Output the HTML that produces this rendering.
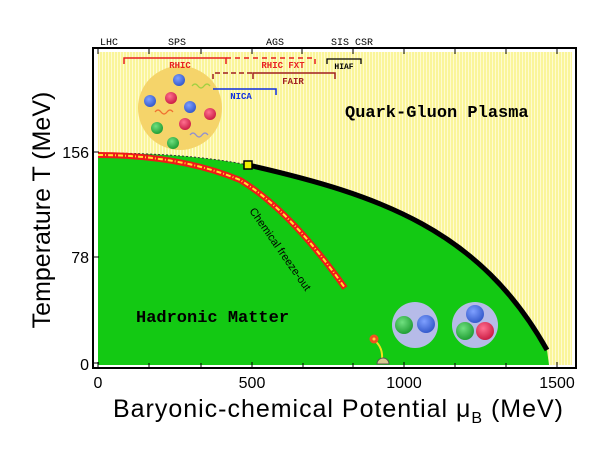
<!DOCTYPE html>
<html><head><meta charset="utf-8"><style>
body{margin:0;background:#fff;}
svg{display:block;font-family:"Liberation Sans",sans-serif;}
.m{font-family:"Liberation Mono",monospace;font-weight:bold;}
</style></head><body>
<svg width="612" height="457" viewBox="0 0 612 457" xmlns="http://www.w3.org/2000/svg">
<defs>
<pattern id="hat" width="3" height="3" patternUnits="userSpaceOnUse">
<rect width="3" height="3" fill="#faf59a"/><rect width="1" height="3" fill="#fffbd0"/>
</pattern>
<radialGradient id="gb" cx="0.4" cy="0.35" r="0.7"><stop offset="0" stop-color="#7fa0ff"/><stop offset="1" stop-color="#2f55c8"/></radialGradient>
<radialGradient id="gr" cx="0.4" cy="0.35" r="0.7"><stop offset="0" stop-color="#ff7090"/><stop offset="1" stop-color="#c81840"/></radialGradient>
<radialGradient id="gg" cx="0.4" cy="0.35" r="0.7"><stop offset="0" stop-color="#70e080"/><stop offset="1" stop-color="#1c9a30"/></radialGradient>
</defs>
<rect x="98" y="52" width="474" height="313" fill="url(#hat)"/>
<!-- green region -->
<path d="M98,153 Q190,153 248,165 C380,195 480,230 547,350 L549,365 L98,365 Z" fill="#13c913"/>
<path d="M98,153 Q190,153 248,165" fill="none" stroke="#333" stroke-width="1" stroke-dasharray="2,2"/>
<path d="M248,165 C380,195 480,230 547,350" fill="none" stroke="#000" stroke-width="5"/>
<rect x="244" y="161" width="8" height="8" fill="#f0f000" stroke="#000" stroke-width="1.5"/>
<!-- freeze-out -->
<path d="M98,155 Q180,155 240,180 Q290,210 345,288" fill="none" stroke="#f01818" stroke-width="6"/>
<path d="M98,155 Q180,155 240,180 Q290,210 345,288" fill="none" stroke="#ffe030" stroke-width="2" stroke-dasharray="5,2,1,2"/>
<text x="0" y="0" font-size="11" transform="translate(249,211) rotate(55)">Chemical freeze-out</text>
<!-- QGP bubble -->
<circle cx="180" cy="108" r="42" fill="#f5d46a"/>
<circle cx="179" cy="80" r="6" fill="url(#gb)"/><circle cx="150" cy="101" r="6" fill="url(#gb)"/><circle cx="190" cy="107" r="6" fill="url(#gb)"/>
<circle cx="171" cy="98" r="6" fill="url(#gr)"/><circle cx="210" cy="114" r="6" fill="url(#gr)"/><circle cx="185" cy="124" r="6" fill="url(#gr)"/>
<circle cx="157" cy="128" r="6" fill="url(#gg)"/><circle cx="173" cy="143" r="6" fill="url(#gg)"/>
<path d="M192,86 q3,-4 6,0 q3,4 6,0 q3,-4 6,0" fill="none" stroke="#a0d040" stroke-width="1.2"/>
<path d="M155,112 q3,-4 6,0 q3,4 6,0 q3,-4 6,0" fill="none" stroke="#f07030" stroke-width="1.2"/>
<path d="M190,135 q3,-4 6,0 q3,4 6,0 q3,-4 6,0" fill="none" stroke="#9090d0" stroke-width="1.2"/>
<!-- hadrons -->
<circle cx="415" cy="325" r="23" fill="#b6bbe8"/>
<circle cx="404" cy="325" r="9" fill="url(#gg)"/><circle cx="426" cy="324" r="9" fill="url(#gb)"/>
<circle cx="475" cy="325" r="23" fill="#b6bbe8"/>
<circle cx="475" cy="314" r="9" fill="url(#gb)"/><circle cx="465" cy="331" r="9" fill="url(#gg)"/><circle cx="485" cy="331" r="9" fill="url(#gr)"/>
<path d="M374,340 Q383,347 382,359" fill="none" stroke="#f0e020" stroke-width="2"/>
<circle cx="374" cy="339" r="4.5" fill="#f05020"/><circle cx="374" cy="339" r="1.5" fill="#ffd040"/>
<path d="M377,364 a6,6 0 0 1 12,0 Z" fill="#d8c890" stroke="#555" stroke-width="1"/>
<!-- labels in plot -->
<text x="345" y="117" class="m" font-size="17">Quark-Gluon Plasma</text>
<text x="136" y="322" class="m" font-size="17">Hadronic Matter</text>
<!-- brackets -->
<path d="M124,64 V58 H226 V64" fill="none" stroke="#e82020" stroke-width="1.5"/>
<path d="M226,58 H315 V64" fill="none" stroke="#e82020" stroke-width="1.5" stroke-dasharray="5,4"/>
<text x="180" y="68" class="m" font-size="9" fill="#e82020" text-anchor="middle">RHIC</text>
<text x="283" y="68" class="m" font-size="9" fill="#e82020" text-anchor="middle">RHIC FXT</text>
<path d="M213,79 V73 H253" fill="none" stroke="#a02020" stroke-width="1.5" stroke-dasharray="5,3"/>
<path d="M253,79 V73 H335 V79" fill="none" stroke="#a02020" stroke-width="1.5"/>
<text x="293" y="84" class="m" font-size="9" fill="#a02020" text-anchor="middle">FAIR</text>
<path d="M213,89 H276 V95" fill="none" stroke="#1030e0" stroke-width="1.5"/>
<text x="241" y="99" class="m" font-size="9" fill="#1030e0" text-anchor="middle">NICA</text>
<path d="M327,64 V59 H361 V64" fill="none" stroke="#000" stroke-width="1.3"/>
<text x="344" y="69" class="m" font-size="8" fill="#000" text-anchor="middle">HIAF</text>
<!-- frame -->
<rect x="93" y="48" width="483" height="320" fill="none" stroke="#000" stroke-width="2"/>
<g stroke="#000" stroke-width="1">
<path d="M98,48v6M149,48v6M201,48v6M252,48v6M302,48v6M353,48v6M404,48v6M455,48v6M506,48v6M557,48v6"/>
<path d="M98,368v-6M149,368v-5M201,368v-5M252,368v-6M303,368v-5M353,368v-5M404,368v-6M455,368v-5M506,368v-5M557,368v-6"/>
<path d="M93,152h6M93,257h6M93,363h6"/>
</g>
<g font-size="10" font-family="Liberation Mono,monospace" text-anchor="middle">
<text x="109" y="45">LHC</text><text x="177" y="45">SPS</text><text x="275" y="45">AGS</text><text x="340" y="45">SIS</text><text x="364" y="45">CSR</text>
</g>
<g font-size="16" text-anchor="end">
<text x="89" y="158">156</text><text x="89" y="263">78</text><text x="89" y="370">0</text>
</g>
<g font-size="16" text-anchor="middle">
<text x="98" y="388">0</text><text x="252" y="388">500</text><text x="404" y="388">1000</text><text x="557" y="388">1500</text>
</g>
<text x="0" y="0" font-size="25" text-anchor="middle" transform="translate(50,210) rotate(-90)">Temperature T (MeV)</text>
<text x="113" y="417" font-size="25" textLength="450" lengthAdjust="spacing">Baryonic-chemical Potential μ<tspan font-size="16" dy="6">B</tspan><tspan dy="-6"> (MeV)</tspan></text>
</svg>
</body></html>
